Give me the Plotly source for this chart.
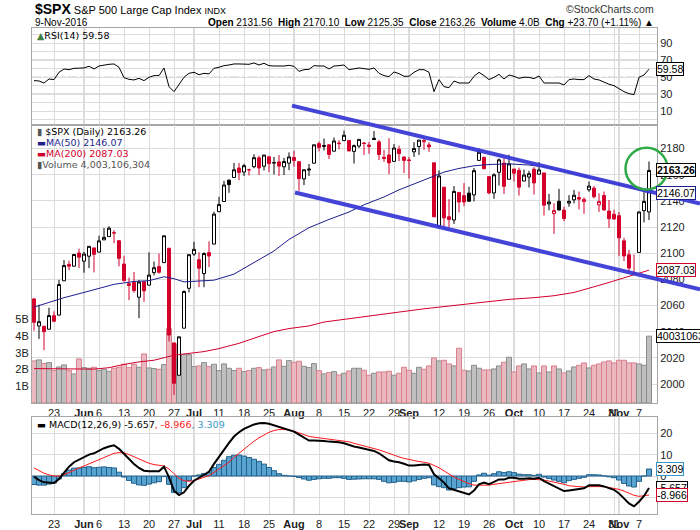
import pandas as pd
import plotly.graph_objects as go

# ---- chart data ----
holidays = ["2016-05-30", "2016-07-04", "2016-09-05"]
days = [d for d in pd.bdate_range("2016-05-17", "2016-11-09")
        if d.strftime("%Y-%m-%d") not in holidays]
prev_close = 2066.66  # 16-May close, decides the colour of the first candle

opens = [2065.04, 2044.38, 2044.21, 2041.88, 2052.23, 2052.65, 2078.93, 2091.44, 2090.06, 2100.13,
         2093.94, 2097.71, 2104.07, 2100.83, 2110.18, 2112.71, 2115.65, 2109.57, 2091.75, 2076.65,
         2077.60, 2066.36, 2078.20, 2075.58, 2085.19, 2089.75, 2092.80, 2103.81, 2031.45, 2006.67,
         2042.69, 2073.17, 2099.34, 2095.05, 2084.43, 2100.42, 2106.97, 2131.72, 2139.50, 2155.81,
         2157.88, 2165.13, 2162.04, 2163.79, 2166.10, 2172.91, 2166.47, 2173.71, 2168.97, 2169.81,
         2166.05, 2168.83, 2173.15, 2169.94, 2156.81, 2163.51, 2168.79, 2183.76, 2182.24, 2182.81,
         2177.97, 2183.74, 2186.08, 2186.24, 2177.84, 2181.90, 2184.24, 2181.58, 2187.81, 2185.09,
         2173.29, 2175.10, 2170.19, 2179.45, 2173.56, 2171.33, 2177.49, 2181.61, 2185.17, 2182.76,
         2169.08, 2120.86, 2150.47, 2127.86, 2125.36, 2146.48, 2143.99, 2145.94, 2144.58, 2170.94,
         2173.29, 2158.54, 2146.04, 2161.85, 2168.90, 2156.51, 2164.33, 2163.37, 2155.15, 2158.22,
         2164.19, 2160.39, 2161.35, 2137.67, 2130.26, 2139.68, 2132.95, 2138.31, 2140.81, 2142.51,
         2139.43, 2148.50, 2149.72, 2136.97, 2144.06, 2132.23, 2129.78, 2128.68, 2109.43, 2098.80,
         2083.79, 2100.59, 2132.56, 2131.56]
highs = [2065.69, 2060.61, 2044.21, 2058.35, 2055.58, 2079.67, 2094.73, 2094.30, 2099.06, 2103.48,
         2100.97, 2105.26, 2104.07, 2113.36, 2119.22, 2120.55, 2117.64, 2109.57, 2098.12, 2081.30,
         2085.65, 2079.62, 2078.20, 2100.66, 2093.66, 2099.71, 2113.32, 2103.81, 2031.45, 2036.09,
         2071.46, 2098.94, 2108.71, 2100.72, 2100.72, 2109.08, 2131.71, 2143.16, 2155.40, 2156.45,
         2169.05, 2169.05, 2168.35, 2164.63, 2175.63, 2174.56, 2175.11, 2173.71, 2173.54, 2174.98,
         2172.85, 2177.09, 2178.29, 2170.20, 2163.79, 2168.19, 2182.87, 2185.44, 2187.66, 2183.41,
         2188.45, 2186.28, 2193.81, 2186.24, 2183.08, 2187.03, 2185.00, 2185.15, 2193.42, 2186.66,
         2179.00, 2187.94, 2183.48, 2182.27, 2173.79, 2173.56, 2184.87, 2186.57, 2187.87, 2184.94,
         2169.08, 2163.30, 2150.47, 2141.33, 2151.31, 2146.48, 2153.61, 2150.80, 2165.11, 2179.99,
         2173.75, 2158.54, 2161.13, 2172.40, 2172.67, 2175.30, 2164.41, 2165.46, 2163.95, 2162.93,
         2165.86, 2169.60, 2161.56, 2145.36, 2138.19, 2149.19, 2135.61, 2144.38, 2148.44, 2147.18,
         2142.63, 2154.79, 2151.44, 2145.73, 2147.13, 2140.72, 2133.25, 2131.45, 2111.76, 2102.56,
         2099.07, 2132.00, 2146.87, 2170.10]
lows = [2040.82, 2034.49, 2025.91, 2041.88, 2047.26, 2052.65, 2078.93, 2087.08, 2090.06, 2088.66,
        2085.10, 2088.59, 2085.36, 2100.83, 2110.18, 2112.71, 2107.73, 2089.96, 2078.46, 2064.10,
        2069.80, 2050.37, 2062.84, 2075.58, 2083.02, 2084.36, 2092.80, 2032.57, 1991.68, 2006.67,
        2042.69, 2070.00, 2097.90, 2074.02, 2074.02, 2089.39, 2106.97, 2131.72, 2139.50, 2146.21,
        2157.88, 2155.79, 2159.07, 2159.40, 2164.89, 2159.75, 2163.24, 2161.95, 2160.18, 2159.07,
        2159.74, 2163.49, 2166.21, 2147.58, 2152.02, 2159.07, 2168.79, 2177.85, 2178.61, 2172.00,
        2177.97, 2179.42, 2186.08, 2178.14, 2168.50, 2180.46, 2175.13, 2175.96, 2186.80, 2171.25,
        2169.74, 2160.39, 2170.19, 2170.41, 2161.35, 2157.09, 2173.59, 2175.10, 2179.07, 2177.49,
        2127.81, 2119.12, 2120.27, 2119.90, 2122.36, 2131.20, 2135.91, 2139.17, 2139.57, 2170.94,
        2163.97, 2145.04, 2141.55, 2151.79, 2145.20, 2156.51, 2154.77, 2144.01, 2155.15, 2150.28,
        2144.85, 2160.39, 2128.84, 2132.77, 2114.72, 2132.98, 2124.43, 2135.49, 2138.15, 2133.44,
        2130.09, 2146.91, 2141.93, 2131.59, 2132.52, 2119.36, 2125.53, 2097.85, 2094.00, 2085.23,
        2083.79, 2100.59, 2123.56, 2125.35]
closes = [2047.21, 2047.63, 2040.04, 2052.32, 2048.04, 2076.06, 2090.54, 2090.10, 2099.06, 2096.95,
          2099.33, 2105.26, 2099.13, 2109.41, 2112.13, 2119.12, 2115.48, 2096.07, 2079.06, 2075.32,
          2071.50, 2077.99, 2071.22, 2083.25, 2088.90, 2085.45, 2113.32, 2037.41, 2000.54, 2036.09,
          2070.77, 2098.86, 2102.95, 2088.55, 2099.73, 2097.90, 2129.90, 2137.16, 2152.14, 2152.43,
          2163.75, 2161.74, 2166.89, 2163.78, 2173.02, 2165.17, 2175.03, 2168.48, 2169.18, 2166.58,
          2170.06, 2173.60, 2170.84, 2157.03, 2163.79, 2164.25, 2182.87, 2180.89, 2181.74, 2175.49,
          2185.79, 2184.05, 2190.15, 2178.15, 2182.22, 2187.02, 2183.87, 2182.64, 2186.90, 2175.44,
          2172.47, 2169.04, 2180.38, 2176.12, 2170.95, 2170.86, 2179.98, 2186.48, 2186.16, 2181.30,
          2127.81, 2159.04, 2127.02, 2125.77, 2147.26, 2139.16, 2139.12, 2139.76, 2163.12, 2177.18,
          2164.69, 2146.10, 2159.93, 2171.37, 2151.13, 2168.27, 2161.20, 2150.49, 2159.73, 2160.77,
          2153.74, 2163.66, 2136.73, 2139.18, 2132.55, 2132.98, 2126.50, 2139.60, 2144.29, 2141.34,
          2141.16, 2151.33, 2143.16, 2139.43, 2133.04, 2126.41, 2126.15, 2111.72, 2097.94, 2088.66,
          2085.18, 2131.52, 2139.56, 2163.26]
# volume in billions
volume_b = [2.52, 2.58, 2.36, 2.42, 1.94, 2.16, 2.28, 1.94, 1.74, 2.64,
            2.12, 2.08, 2.14, 1.94, 2.02, 1.90, 2.08, 2.14, 2.32, 2.12,
            2.32, 2.14, 2.94, 2.10, 2.06, 2.02, 2.30, 4.45, 3.55, 2.70,
            2.92, 2.90, 2.18, 2.22, 2.42, 2.18, 2.32, 1.94, 2.34, 2.08,
            1.94, 2.08, 1.88, 1.94, 2.08, 2.12, 1.98, 2.02, 2.16, 2.58,
            2.20, 2.54, 2.44, 2.50, 2.20, 2.12, 2.36, 1.94, 1.74, 1.82,
            1.88, 1.68, 1.78, 1.92, 2.08, 2.08, 1.96, 1.66, 1.78, 1.86,
            1.86, 1.90, 1.66, 1.78, 2.14, 1.96, 1.78, 2.14, 2.02, 2.22,
            2.70, 2.52, 2.56, 2.34, 2.22, 3.28, 1.96, 1.92, 2.26, 2.08,
            1.98, 1.98, 2.04, 2.22, 2.44, 2.74, 1.86, 2.22, 2.34, 2.04,
            2.22, 1.80, 2.22, 1.86, 2.22, 2.04, 1.80, 1.92, 2.16, 2.26,
            2.40, 2.10, 2.26, 2.34, 2.46, 2.52, 2.40, 2.56, 2.56, 2.40,
            2.40, 2.34, 2.26, 4.003106304]

# moving averages (trading-day index, value)
ma50_days = [0, 3, 6, 10, 13, 16, 20, 23, 26, 28, 30, 33, 36, 40, 44, 48, 51, 55, 59, 63,
             66, 70, 73, 76, 79, 82, 85, 88, 91, 95, 99, 103, 106, 110, 114, 117, 120, 123]
ma50 = [2058.8, 2062.3, 2066.0, 2070.0, 2073.3, 2076.2, 2078.4, 2079.0, 2082.0, 2080.5,
        2078.1, 2078.8, 2079.4, 2084.0, 2092.8, 2101.7, 2110.5, 2119.5, 2125.8, 2131.5,
        2137.0, 2143.0, 2148.4, 2153.0, 2158.0, 2162.0, 2164.8, 2166.8, 2167.8, 2168.3,
        2167.4, 2165.5, 2162.5, 2159.0, 2155.0, 2152.5, 2149.8, 2146.07]
ma200_days = [0, 6, 12, 15, 18, 21, 24, 28, 31, 34, 37, 41, 45, 48, 51, 55, 58, 63,
              70, 73, 78, 83, 89, 95, 100, 104, 108, 111, 114, 117, 120, 123]
ma200 = [2011.8, 2011.6, 2011.4, 2012.5, 2015.0, 2016.9, 2018.2, 2022.0, 2023.5, 2024.8,
         2027.1, 2031.1, 2036.3, 2040.1, 2042.4, 2044.4, 2047.4, 2050.0,
         2054.0, 2055.0, 2057.5, 2059.6, 2062.0, 2064.7, 2066.0, 2067.5, 2070.0, 2073.0,
         2076.5, 2080.0, 2083.5, 2087.03]

rsi = [46.1, 45.7, 43.3, 48.0, 47.3, 55.9, 59.8, 59.0, 60.6, 61.0,
       61.0, 63.0, 59.8, 63.3, 64.5, 65.3, 65.7, 61.8, 49.6, 47.6,
       46.9, 48.8, 46.1, 50.0, 52.0, 52.0, 61.0, 39.0, 33.1, 41.0,
       50.0, 54.7, 55.9, 53.0, 54.7, 54.0, 60.6, 61.8, 63.7, 64.5,
       65.7, 65.7, 65.7, 65.3, 66.9, 64.5, 66.5, 63.7, 63.3, 62.9,
       63.3, 64.1, 62.9, 57.0, 59.0, 59.4, 63.7, 63.3, 63.3, 59.8,
       63.3, 63.7, 64.5, 59.0, 59.8, 61.0, 60.2, 59.4, 61.0, 54.7,
       52.0, 50.8, 56.3, 54.3, 51.2, 51.2, 55.9, 59.0, 59.0, 55.9,
       33.1, 47.3, 39.0, 37.8, 45.7, 43.3, 43.3, 43.3, 51.2, 55.9,
       52.0, 47.3, 50.0, 53.5, 48.0, 52.7, 51.2, 48.8, 50.0, 50.0,
       48.4, 51.6, 43.3, 43.7, 43.3, 43.3, 41.0, 47.3, 48.0, 47.3,
       47.3, 52.0, 48.0, 46.9, 44.1, 41.8, 40.2, 36.3, 33.1, 30.8,
       29.6, 50.0, 52.7, 59.58]

macd = [-0.3, -1.9, -3.0, -3.3, -3.3, -1.4, 1.7, 4.4, 6.5, 7.6,
        8.8, 10.1, 10.7, 12.0, 13.1, 13.9, 14.5, 12.8, 10.4, 8.0,
        5.7, 3.8, 2.5, 2.2, 2.2, 2.2, 4.4, -0.6, -6.9, -9.0,
        -7.7, -4.6, -2.2, -0.9, 0.6, 2.0, 5.7, 8.8, 12.3, 15.6,
        18.6, 20.6, 22.2, 23.3, 24.3, 24.9, 25.0, 24.6, 23.9, 23.0,
        22.2, 21.7, 20.9, 19.5, 18.0, 16.7, 16.7, 16.7, 16.5, 16.2,
        16.2, 15.9, 15.4, 14.5, 13.9, 13.4, 12.9, 12.4, 11.8, 10.7,
        9.0, 7.4, 6.8, 6.5, 5.8, 4.9, 4.9, 5.2, 5.4, 5.2,
        0.8, -1.1, -3.1, -5.8, -6.5, -7.1, -7.9, -8.7, -6.8, -3.9,
        -3.1, -3.9, -2.8, -1.6, -1.7, -0.8, -0.8, -1.3, -1.3, -1.1,
        -1.3, -0.8, -2.4, -3.6, -4.7, -5.8, -7.1, -6.8, -6.5, -6.1,
        -5.8, -4.4, -4.3, -4.4, -4.9, -5.8, -6.5, -8.2, -10.6, -12.9,
        -14.3, -12.1, -9.4, -5.657]
macd_signal = [3.8, 2.5, 1.3, 0.5, 0.0, 0.0, 0.6, 1.6, 2.8, 3.8,
               4.7, 5.7, 6.8, 7.9, 8.8, 9.9, 10.7, 11.0, 10.9, 10.1,
               9.1, 8.0, 6.9, 6.0, 5.4, 4.9, 4.7, 3.3, 0.9, -1.1,
               -2.2, -2.5, -2.2, -1.4, -0.6, 0.2, 1.7, 3.3, 4.9, 6.5,
               8.8, 10.7, 12.8, 14.6, 16.4, 18.0, 19.4, 20.6, 21.4, 21.9,
               21.9, 21.7, 21.1, 20.2, 19.4, 18.7, 18.3, 18.0, 17.6, 17.3,
               17.0, 16.7, 16.5, 16.1, 15.4, 14.8, 14.2, 13.7, 13.1, 12.3,
               11.5, 10.6, 9.8, 9.0, 8.3, 7.7, 7.2, 6.8, 6.5, 6.0,
               5.0, 3.9, 2.4, 0.8, -0.5, -1.6, -2.7, -3.6, -4.3, -4.4,
               -4.4, -4.3, -3.9, -3.6, -3.3, -2.8, -2.4, -2.2, -1.9, -1.7,
               -1.6, -1.6, -1.9, -2.4, -2.8, -3.3, -3.9, -4.6, -4.9, -5.0,
               -5.2, -5.0, -4.9, -4.9, -5.0, -5.4, -5.7, -6.3, -7.1, -8.2,
               -9.1, -9.6, -9.4, -8.966]
macd_hist = [-4.0, -4.3, -4.3, -3.8, -3.3, -1.4, 1.1, 2.8, 3.7, 3.8,
             4.1, 4.4, 3.9, 4.1, 4.3, 4.0, 3.8, 1.8, -0.5, -2.1,
             -3.4, -4.2, -4.4, -3.8, -3.2, -2.7, -0.3, -3.9, -7.8, -7.9,
             -5.5, -2.1, 0.0, 0.5, 1.2, 1.8, 4.0, 5.5, 7.4, 9.1,
             9.8, 9.9, 9.4, 8.7, 7.9, 6.9, 5.6, 4.0, 2.5, 1.1,
             0.3, 0.0, -0.2, -0.7, -1.4, -2.0, -1.6, -1.3, -1.1, -1.1,
             -0.8, -0.8, -1.1, -1.6, -1.5, -1.4, -1.3, -1.3, -1.3, -1.6,
             -2.5, -3.2, -3.0, -2.5, -2.5, -2.8, -2.3, -1.6, -1.1, -0.8,
             -4.2, -5.0, -5.5, -6.6, -6.0, -5.5, -5.2, -5.1, -2.5, 0.5,
             1.3, 0.4, 1.1, 2.0, 1.6, 2.0, 1.6, 0.9, 0.6, 0.6,
             0.3, 0.8, -0.5, -1.2, -1.9, -2.5, -3.2, -2.2, -1.6, -1.1,
             -0.6, 0.6, 0.6, 0.5, 0.1, -0.4, -0.8, -1.9, -3.5, -4.7,
             -5.2, -2.5, 0.0, 3.309]

# hand-drawn marks on the chart, in (trading-day index, price)
upper_channel = ([51.6, 133.2], [2212.8, 2138.0])
lower_channel = ([52.2, 133.2], [2146.4, 2072.4])
circle_center = (122.5, 2164.7)
circle_half = (4.2, 16.0)

# ---- layout geometry (pixels of the 700x530 picture) ----
W, H = 700, 530
X_DOM = [32 / W, 657 / W]
X_RANGE = [-0.4, 124.6]
RSI_DOM = [1 - 125 / H, 1 - 28 / H]
PRICE_DOM = [1 - 403 / H, 1 - 125 / H]
MACD_DOM = [1 - 514 / H, 1 - 417 / H]
PRICE_RANGE = [1985.5, 2198]


def page_range(rng, dom):
    # extend an axis range so that it spans the whole page
    span = (rng[1] - rng[0]) / (dom[1] - dom[0])
    lo = rng[0] - span * dom[0]
    return [lo, lo + span]


TICK_FONT = "Liberation Sans, Arial, sans-serif"
LEGEND_FONT = "DejaVu Sans, Verdana, sans-serif"
GRID = "#dcdcdc"
BORDER = "#a6a6a6"
RED = "#d4002c"
NAVY = "#1e1e8c"

xi = list(range(len(days)))
prevs = [prev_close] + closes[:-1]
up = [c >= p for c, p in zip(closes, prevs)]

# x tick labels: month name on the first trading day, day number on Mondays
tick_idx, tick_txt, month_idx = [], [], []
for i, d in enumerate(days):
    if i > 0 and d.month != days[i - 1].month:
        tick_idx.append(i)
        tick_txt.append("<b>%s</b>" % d.strftime("%b"))
        month_idx.append(i)
    elif d.weekday() == 0:
        tick_idx.append(i)
        tick_txt.append(str(d.day))

fig = go.Figure()

# volume underneath the price candles
fig.add_trace(go.Bar(
    x=xi, y=volume_b, width=1,
    marker=dict(color=["#bfbfbf" if u else "#eab9c0" for u in up],
                line=dict(color=["#8c8c8c" if u else "#d9808d" for u in up], width=1)),
    xaxis="x2", yaxis="y2", hoverinfo="skip"))

fig.add_trace(go.Scatter(x=ma200_days, y=ma200, mode="lines", line=dict(color=RED, width=1),
                         xaxis="x2", yaxis="y3"))
fig.add_trace(go.Scatter(x=ma50_days, y=ma50, mode="lines", line=dict(color=NAVY, width=1),
                         xaxis="x2", yaxis="y3"))

# candles: black when close >= previous close, red otherwise; hollow when close > open
for flag, col in ((True, "#000000"), (False, RED)):
    sel = [i for i in xi if up[i] == flag]
    fig.add_trace(go.Candlestick(
        x=sel, open=[opens[i] for i in sel], high=[highs[i] for i in sel],
        low=[lows[i] for i in sel], close=[closes[i] for i in sel],
        increasing=dict(line=dict(color=col, width=1), fillcolor="white"),
        decreasing=dict(line=dict(color=col, width=1), fillcolor=col),
        whiskerwidth=0, xaxis="x2", yaxis="y3", hoverinfo="skip"))

# RSI
fig.add_trace(go.Scatter(x=xi, y=rsi, mode="lines", line=dict(color="black", width=1),
                         xaxis="x", yaxis="y"))

# MACD
fig.add_trace(go.Bar(x=xi, y=macd_hist, width=1,
                     marker=dict(color="#58a3cf", line=dict(color="#22618c", width=1)),
                     xaxis="x3", yaxis="y4", hoverinfo="skip"))
fig.add_trace(go.Scatter(x=xi, y=macd_signal, mode="lines", line=dict(color="#ff1a1a", width=1),
                         xaxis="x3", yaxis="y4"))
fig.add_trace(go.Scatter(x=xi, y=macd, mode="lines", line=dict(color="black", width=2),
                         xaxis="x3", yaxis="y4"))

# trend channel drawn across the page
for xs, ys in (upper_channel, lower_channel):
    fig.add_trace(go.Scatter(x=xs, y=ys, mode="lines",
                             line=dict(color="rgba(58,58,214,0.95)", width=4),
                             xaxis="x4", yaxis="y5", hoverinfo="skip"))

tickfont = dict(family=TICK_FONT, size=11, color="#222")
xcommon = dict(domain=X_DOM, tickmode="array", tickvals=tick_idx, ticktext=tick_txt,
               tickangle=0, showgrid=True, gridcolor=GRID, zeroline=False, showline=True,
               mirror=True, linecolor=BORDER, ticks="", tickfont=tickfont,
               rangeslider=dict(visible=False))
ycommon = dict(showline=True, mirror=True, linecolor=BORDER, zeroline=False, ticks="",
               tickfont=tickfont, gridcolor=GRID, fixedrange=True)

fig.update_layout(
    width=W, height=H, margin=dict(l=0, r=0, t=0, b=0),
    paper_bgcolor="white", plot_bgcolor="rgba(0,0,0,0)", showlegend=False,
    boxgap=0.15, boxmode="overlay",
    xaxis=dict(xcommon, range=X_RANGE, anchor="y", showticklabels=False),
    xaxis2=dict(xcommon, matches="x", anchor="y2"),
    xaxis3=dict(xcommon, matches="x", anchor="y4"),
    yaxis=dict(ycommon, domain=RSI_DOM, range=[-6.1, 108], side="right", anchor="x",
               tickvals=[10, 30, 50, 70, 90], showgrid=True,
               minor=dict(tickvals=[0, 20, 40, 60, 80, 100], showgrid=True, gridcolor=GRID)),
    yaxis2=dict(ycommon, domain=PRICE_DOM, range=[0, 16.65], side="left", anchor="x2",
                tickvals=[1, 2, 3, 4, 5], ticktext=["1B", "2B", "3B", "4B", "5B"],
                showgrid=False),
    yaxis3=dict(ycommon, overlaying="y2", range=PRICE_RANGE, side="right", anchor="x2",
                tickvals=list(range(2000, 2181, 20)), showgrid=True),
    yaxis4=dict(ycommon, domain=MACD_DOM, range=[-17.9, 27.8], side="right", anchor="x3",
                tickvals=[-10, 0, 10, 20], ticktext=["", "0", "10", "20"], showgrid=True),
    xaxis4=dict(domain=[0, 1], range=page_range(X_RANGE, X_DOM), anchor="y5", visible=False,
                fixedrange=True),
    yaxis5=dict(domain=[0, 1], range=page_range(PRICE_RANGE, PRICE_DOM), anchor="x4",
                visible=False, fixedrange=True),
)

shapes = []
# darker grid lines at the start of each month
for xr, yr in (("x", "y"), ("x2", "y2"), ("x3", "y4")):
    for m in month_idx:
        shapes.append(dict(type="line", xref=xr, yref=yr + " domain", x0=m, x1=m, y0=0, y1=1,
                           line=dict(color="#b8b8b8", width=1), layer="below"))
for lvl, dash in ((70, "solid"), (30, "solid"), (50, "dashdot")):
    shapes.append(dict(type="line", xref="x domain", yref="y", x0=0, x1=1, y0=lvl, y1=lvl,
                       line=dict(color="#7d7d7d", width=1.3 if dash == "solid" else 1, dash=dash),
                       layer="below"))
cx, cy = circle_center
hx, hy = circle_half
shapes.append(dict(type="circle", xref="x4", yref="y5", x0=cx - hx, x1=cx + hx,
                   y0=cy - hy, y1=cy + hy, line=dict(color="#2eaa46", width=2.5)))
fig.update_layout(shapes=shapes)


def label(px, py, text, size=9.5, color="#000", anchor="left", family=LEGEND_FONT):
    return dict(x=px / W, y=1 - py / H, xref="paper", yref="paper", text=text,
                showarrow=False, xanchor=anchor, yanchor="middle",
                font=dict(size=size, color=color, family=family))


def value_box(yref, val, text, border, bold=False):
    return dict(x=656 / W, xref="paper", y=val, yref=yref, showarrow=False,
                text="<b>%s</b>" % text if bold else text, xanchor="left", yanchor="middle",
                font=dict(size=10.5, color="#000", family=TICK_FONT), bgcolor="white",
                bordercolor=border, borderwidth=1, borderpad=0)


chg = closes[-1] - closes[-2]
pct = chg / closes[-2] * 100
header = ("<b>Open</b> %.2f  <b>High</b> %.2f  <b>Low</b> %.2f  <b>Close</b> %.2f  "
          "<b>Volume</b> %.1fB  <b>Chg</b> %+.2f (%+.2f%%) ▲"
          % (opens[-1], highs[-1], lows[-1], closes[-1], volume_b[-1], chg, pct))
vol_full = "{:,}".format(round(volume_b[-1] * 1e9))

annotations = [
    label(33, 9, "<span style='font-size:14px'><b>$SPX</b></span> S&amp;P 500 Large Cap Index "
                 "<span style='font-size:9px'>INDX</span>", size=11, family=TICK_FONT),
    label(656, 9, "©StockCharts.com", size=10.5, color="#333", anchor="right", family=TICK_FONT),
    label(33, 22.5, days[-1].strftime("%-d-%b-%Y"), size=10, family=TICK_FONT),
    label(656, 22.5, header, size=10, anchor="right", family=TICK_FONT),
    label(35, 35.5, "<span style='color:#3f7f3f'>▲</span>RSI(14) %.2f" % rsi[-1]),
    label(35, 131.5, "<span style='color:#555'>▮</span> $SPX (Daily) %.2f" % closes[-1]),
    label(35, 142.5, "▬MA(50) %.2f" % ma50[-1], color=NAVY),
    label(35, 153.5, "▬MA(200) %.2f" % ma200[-1], color=RED),
    label(35, 164.5, "▮Volume %s" % vol_full, color="#555"),
    label(35, 424.7, "▬ MACD(12,26,9) %.3f<span style='color:#ff1a1a'>, %.3f</span>"
                     "<span style='color:#3399cc'>, %.3f</span>"
          % (macd[-1], macd_signal[-1], macd_hist[-1])),
    value_box("y", rsi[-1], "%.2f" % rsi[-1], "#000"),
    value_box("y3", closes[-1], "%.2f" % closes[-1], "#000", bold=True),
    value_box("y3", ma50[-1], "%.2f" % ma50[-1], NAVY),
    value_box("y3", ma200[-1], "%.2f" % ma200[-1], RED),
    value_box("y2", volume_b[-1], vol_full.replace(",", ""), "#000"),
    value_box("y4", macd_hist[-1], "%.3f" % macd_hist[-1], "#3399cc"),
    value_box("y4", macd[-1], "%.3f" % macd[-1], "#000"),
    value_box("y4", macd_signal[-1], "%.3f" % macd_signal[-1], RED),
]
fig.update_layout(annotations=annotations)

# the page's default body margin would shift the 700x530 figure; remove it
fig.write_html("out.html", config={"displayModeBar": False},
               post_script="document.body.style.margin='0';"
                           "document.body.style.overflow='hidden';")
